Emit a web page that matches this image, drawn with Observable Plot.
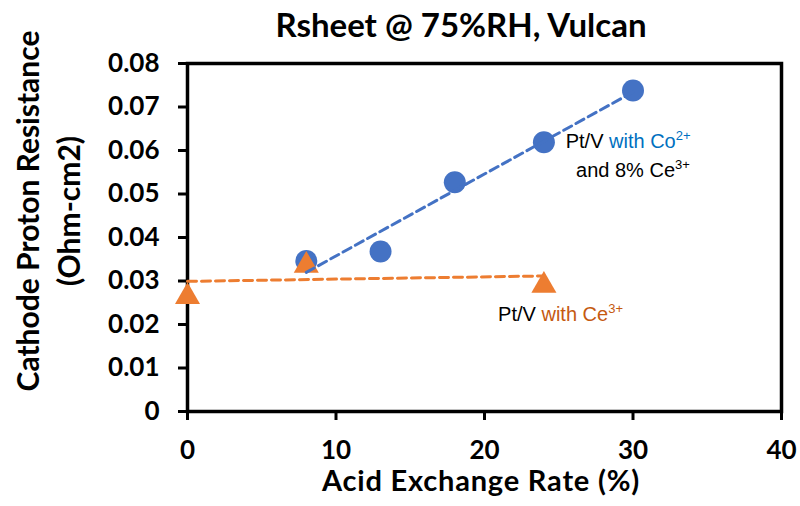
<!DOCTYPE html>
<html>
<head>
<meta charset="utf-8">
<script src="https://cdn.jsdelivr.net/npm/d3@7"></script>
<script src="https://cdn.jsdelivr.net/npm/@observablehq/plot@0.6"></script>
<style>
  html, body { margin: 0; padding: 0; background: #ffffff; }
  #chart { width: 800px; height: 506px; }
</style>
</head>
<body>
<div id="chart"></div>
<script>
// ---- data ----
const coX = [8, 13, 18, 24, 30];                       // Pt/V with Co2+ and 8% Ce3+
const coY = [0.0346, 0.0368, 0.0527, 0.0619, 0.0738];
const ceX = [0, 8, 24];                                 // Pt/V with Ce3+
const ceY = [0.0272, 0.0344, 0.0298];
const xTicks = [0, 10, 20, 30, 40];
const yTicks = [0, 0.01, 0.02, 0.03, 0.04, 0.05, 0.06, 0.07, 0.08];

const titleText = "Rsheet @ 75%RH, Vulcan";
const xTitle = "Acid Exchange Rate (%)";
const yTitle1 = "Cathode Proton Resistance";
const yTitle2 = "(Ohm-cm2)";

const co = coX.map((x, i) => ({x, y: coY[i]}));
const ce = ceX.map((x, i) => ({x, y: ceY[i]}));

const BLUE = "#4472C4";
const ORANGE = "#ED7D31";

const plot = Plot.plot({
  width: 800,
  height: 506,
  marginLeft: 187,
  marginRight: 19,
  marginTop: 63,
  marginBottom: 95,
  style: {fontFamily: "Lato, sans-serif", background: "#ffffff", color: "#000000"},
  x: {domain: [0, 40], label: null},
  y: {domain: [0, 0.08], label: null},
  marks: [
    Plot.axisY(yTicks, {
      tickSize: 9, tickPadding: 19, strokeWidth: 3,
      tickFormat: d => d === 0 ? "0" : d.toFixed(2),
      fontSize: 26, fontWeight: "bold", label: null
    }),
    Plot.axisX(xTicks, {
      tickSize: 9, tickPadding: 20, strokeWidth: 3,
      tickFormat: d => String(d),
      fontSize: 26, fontWeight: "bold", label: null
    }),
    Plot.frame({stroke: "#000000", strokeWidth: 3.5}),
    Plot.dot(co, {x: "x", y: "y", r: 11, fill: BLUE, symbol: "circle"}),
    Plot.dot(ce, {x: "x", y: "y", r: 9.3, fill: ORANGE, symbol: "triangle", dy: 3.6}),
    Plot.linearRegressionY(co, {x: "x", y: "y", ci: 0, stroke: BLUE, strokeWidth: 3, strokeDasharray: "9,5"}),
    Plot.linearRegressionY(ce, {x: "x", y: "y", ci: 0, stroke: ORANGE, strokeWidth: 3, strokeDasharray: "9,5"})
  ]
});

document.getElementById("chart").appendChild(plot);

const svg = d3.select(plot);
const sx = plot.scale("x");
const sy = plot.scale("y");

function label(x, y, rot, size, str, spacing) {
  svg.append("text")
    .attr("transform", `translate(${x},${y})` + (rot ? " rotate(-90)" : ""))
    .attr("text-anchor", "middle")
    .style("font-family", "Lato, sans-serif").style("font-weight", "bold").style("font-size", size + "px")
    .style("letter-spacing", (spacing || 0) + "px")
    .attr("fill", "#000")
    .text(str);
}
label(461, 37, false, 33, titleText);
label(481, 491, false, 29, xTitle, 0.8);
label(39, 211, true, 30, yTitle1);
label(80, 211, true, 30, yTitle2);

// Annotations (anchors in data units)
const annFont = "'Liberation Sans', Arial, sans-serif";
function note(xv, yv, parts) {
  const t = svg.append("text")
    .attr("x", sx.apply(xv)).attr("y", sy.apply(yv))
    .attr("text-anchor", "start")
    .style("font-family", annFont).style("font-size", "20px")
    .style("white-space", "pre");
  for (const p of parts) {
    const s = t.append("tspan").attr("fill", p.c).text(p.t);
    if (p.sup) s.style("font-size", "13px").attr("dy", -8);
  }
}
const TXT_BLUE = "#0070C0";
const TXT_ORANGE = "#C55A11";
note(25.5, 0.0605, [
  {t: "Pt/V ", c: "#000"},
  {t: "with Co", c: TXT_BLUE},
  {t: "2+", c: TXT_BLUE, sup: true}
]);
note(26.2, 0.0538, [
  {t: "and 8% Ce", c: "#000"},
  {t: "3+", c: "#000", sup: true}
]);
note(20.95, 0.0207, [
  {t: "Pt/V ", c: "#000"},
  {t: "with Ce", c: TXT_ORANGE},
  {t: "3+", c: TXT_ORANGE, sup: true}
]);
</script>
</body>
</html>
